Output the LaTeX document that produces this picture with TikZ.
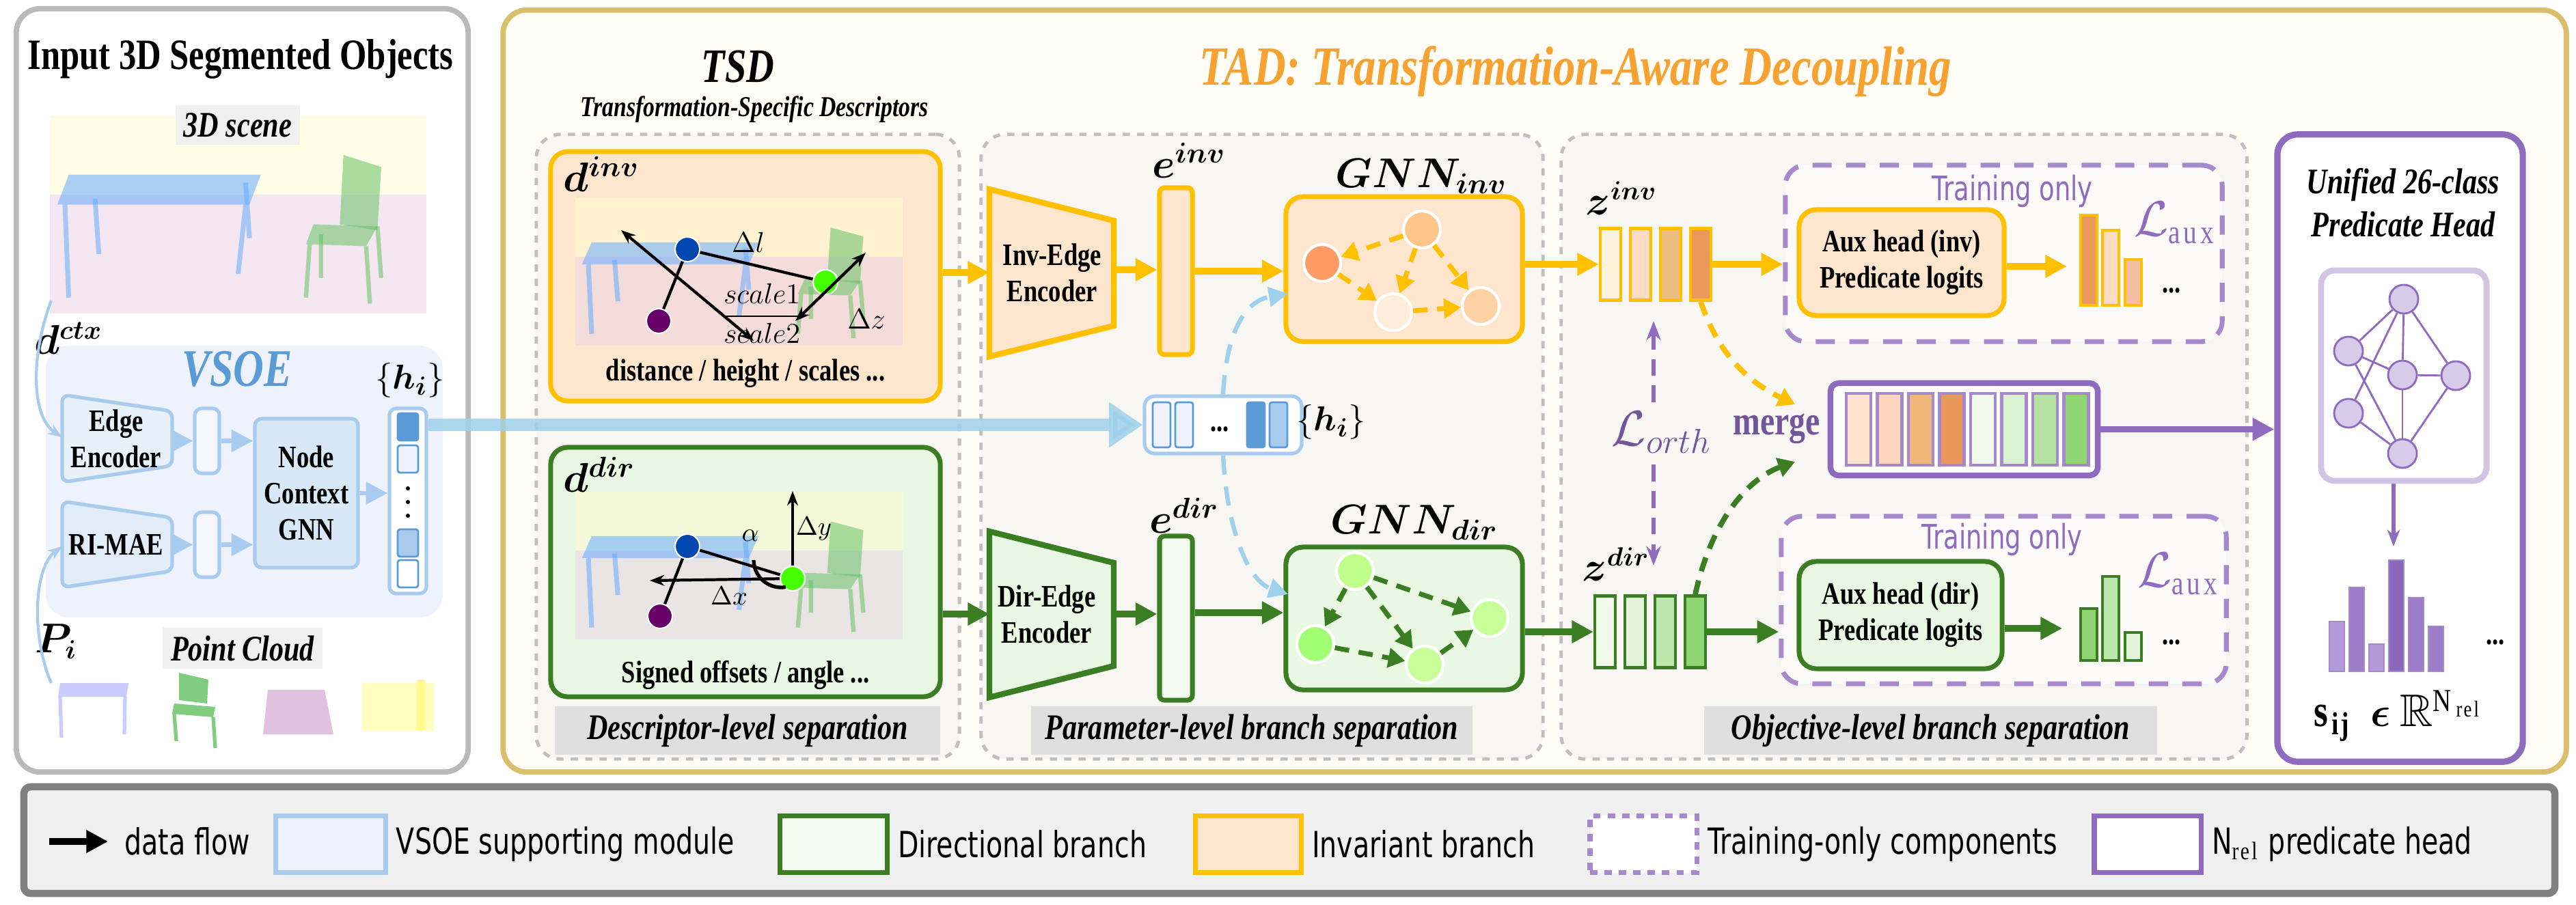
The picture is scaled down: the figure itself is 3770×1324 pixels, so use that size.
\documentclass[tikz,border=0pt]{standalone}
\usepackage{fontspec}
\usepackage{amsmath,amssymb,bm}
\setmainfont{Liberation Serif}[FakeStretch=0.8]
\setsansfont{DejaVu Sans}[FakeStretch=0.75]
\usetikzlibrary{arrows.meta,positioning,calc}
\definecolor{orgline}{HTML}{FFC000}
\definecolor{orgfill}{HTML}{FDE5CE}
\definecolor{grnline}{HTML}{3B7D23}
\definecolor{grnfill}{HTML}{E8F8E3}
\definecolor{vsline}{HTML}{A9CCEE}
\definecolor{vsfill}{HTML}{EEF2FC}
\definecolor{purp}{HTML}{8E6BBF}
\definecolor{tadline}{HTML}{D9BE6C}
\definecolor{tadfill}{HTML}{FFFDF5}
\definecolor{regfill}{HTML}{F7F6F2}
\definecolor{tadtitle}{HTML}{F7A130}
\definecolor{vsblue}{HTML}{5B9BD5}
\definecolor{flowblue}{HTML}{9FD1EC}
\tikzset{
  panel/.style={draw, rounded corners=0.35cm, line width=2.2pt},
  region/.style={draw=gray!50, dashed, line width=1.4pt, fill=regfill, rounded corners=0.35cm},
  sepbox/.style={fill=gray!25, font=\bfseries\itshape\fontsize{15}{16}\selectfont},
  invbox/.style={draw=orgline, fill=orgfill, line width=2pt, rounded corners=0.25cm},
  dirbox/.style={draw=grnline, fill=grnfill, line width=2pt, rounded corners=0.25cm},
  trainbox/.style={draw=purp!80, dashed, dash pattern=on 8pt off 6pt, line width=2pt, fill=white!60!regfill, rounded corners=0.3cm},
  vsbox/.style={draw=vsline, fill=vsfill!60!white, line width=1.5pt, rounded corners=0.1cm},
  lbl/.style={font=\bfseries\fontsize{13}{15}\selectfont, align=center},
  cell/.style={draw, line width=1.2pt, minimum width=0.3cm, minimum height=1.05cm, inner sep=0pt},
  gnode/.style={circle, draw=white, line width=1.2pt, minimum size=0.54cm, inner sep=0pt},
  dot/.style={circle, draw=white, line width=0.6pt, minimum size=0.36cm, inner sep=0pt},
  flow/.style={-{Triangle[length=9pt,width=9pt]}, line width=2.6pt},
  gedge/.style={-{Triangle[length=7pt,width=8pt]}, line width=2pt, dash pattern=on 6pt off 4pt},
  thin/.style={-{Stealth[length=6pt]}, line width=1.2pt},
}
% simple 3D scene sketch, #1,#2 top left, #3 width, #4 height
\newcommand\roomsketch[4]{%
\begin{scope}[shift={(#1,#2)}, xscale=#3, yscale=#4, opacity=0.55]
\fill[yellow!18] (0,0) rectangle (1,0.4);
\fill[pink!45!violet!25] (0,0.4) -- (1,0.4) -- (1,1) -- (0,1) -- cycle;
\fill[blue!55!cyan!60] (0.05,0.3) -- (0.56,0.3) -- (0.53,0.45) -- (0.02,0.45) -- cycle;
\draw[blue!55!cyan!60, line width=2pt] (0.04,0.45) -- (0.05,0.92) (0.52,0.45) -- (0.5,0.8) (0.12,0.42) -- (0.13,0.7) (0.52,0.34) -- (0.53,0.62);
\fill[green!60!black!60] (0.78,0.2) -- (0.88,0.26) -- (0.87,0.58) -- (0.77,0.55) -- cycle;
\fill[green!60!black!60] (0.7,0.55) -- (0.87,0.56) -- (0.84,0.66) -- (0.68,0.65) -- cycle;
\draw[green!60!black!60, line width=1.8pt] (0.69,0.65) -- (0.68,0.92) (0.84,0.66) -- (0.85,0.95) (0.87,0.56) -- (0.88,0.82) (0.72,0.6) -- (0.72,0.82);
\end{scope}}
\begin{document}
\begin{tikzpicture}[x=0.01cm, y=-0.01cm, font=\bfseries\fontsize{13}{15}\selectfont]
\useasboundingbox (0,0) rectangle (3770,1324);
\fill[white] (0,0) rectangle (3770,1324);
% panels
\node[panel, draw=gray!55, fill=white, minimum width=6.61cm, minimum height=11.17cm] (inp) at (354.5,571.5) {};
\node[panel, draw=tadline, fill=tadfill, minimum width=30.18cm, minimum height=11.15cm] (tad) at (2246,572.5) {};
\node[font=\bfseries\fontsize{18}{20}\selectfont] (inptitle) at (352,87) {Input 3D Segmented Objects};
\node[font=\bfseries\itshape\fontsize{23}{25}\selectfont, text=tadtitle] (tadtitle) at (2306,105) {TAD: Transformation-Aware Decoupling};
\node[font=\bfseries\itshape\fontsize{20}{22}\selectfont] (tsd) at (1080,98) {TSD};
\node[font=\bfseries\itshape\fontsize{12}{14}\selectfont] (tsdsub) at (1104,160) {Transformation-Specific Descriptors};

% left panel
\roomsketch{73}{169}{551}{290}
\node[fill=gray!12, font=\bfseries\itshape\fontsize{15}{17}\selectfont] (scene) at (348,183) {3D scene};
\node[vsbox, draw=none, fill=vsfill, rounded corners=0.35cm, minimum width=5.81cm, minimum height=3.98cm] (vsoe) at (357.5,705) {};
\node[font=\bfseries\itshape\fontsize{22}{24}\selectfont, text=vsblue] (vsoetitle) at (347,540) {VSOE};
\draw[vsbox, fill=vsfill!40!vsline!40] (91,578) -- (252,602) -- (252,682) -- (91,706) -- cycle;
\node[lbl] (ee) at (170,642) {Edge\\Encoder};
\draw[vsbox, fill=vsfill!40!vsline!50] (91,734) -- (252,758) -- (252,836) -- (91,860) -- cycle;
\node[lbl] (rimae) at (170,797) {RI-MAE};
\node[vsbox, minimum width=0.36cm, minimum height=0.95cm] (eb) at (303,645.5) {};
\node[vsbox, minimum width=0.36cm, minimum height=0.95cm] (rb) at (303,797.5) {};
\node[vsbox, fill=vsline!45, minimum width=1.51cm, minimum height=2.18cm, lbl] (ncg) at (448.5,722) {Node\\Context\\GNN};
\node[vsbox, fill=white, minimum width=0.54cm, minimum height=2.71cm] (hcol) at (597,733.5) {};
\foreach \yy/\cc in {625/vsblue, 672/vsfill, 795/vsline, 840/white}
  \node[draw=vsblue, fill=\cc, line width=0.8pt, rounded corners=1pt, minimum width=0.3cm, minimum height=0.4cm, inner sep=0pt] at (597,\yy) {};
\foreach \yy in {715,735,755}
  \fill (597,\yy) circle (3);
\node[font=\fontsize{15}{17}\selectfont] (hlab) at (600,557) {$\{\bm{h_i}\}$};
\draw[flow, vsline, line width=1.8pt] (252,645.5) -- (eb.west);
\draw[flow, vsline, line width=1.8pt] (eb.east) -- (ncg.west |- eb);
\draw[flow, vsline, line width=1.8pt] (252,797.5) -- (rb.west);
\draw[flow, vsline, line width=1.8pt] (rb.east) -- (ncg.west |- rb);
\draw[flow, vsline, line width=1.8pt] (ncg.east) -- (hcol.west |- ncg);
\node[font=\fontsize{16}{18}\selectfont] (dctx) at (100,495) {$\bm{d}^{\bm{ctx}}$};
\node[font=\fontsize{16}{18}\selectfont] (pi) at (82,939) {$\bm{P_i}$};
\coordinate (ctxs) at (75,440);
\coordinate (pis) at (75,1000);
\draw[thin, vsline] (ctxs) .. controls (45,520) and (45,610) .. (91,640);
\draw[thin, vsline] (pis) .. controls (45,930) and (50,830) .. (91,800);
\node[fill=gray!12, font=\bfseries\itshape\fontsize{15}{17}\selectfont] (pc) at (355,949) {Point Cloud};
\fill[blue!40, opacity=0.5] (88,1000) -- (188,1000) -- (185,1020) -- (85,1020) -- cycle;
\draw[blue!40, opacity=0.5, line width=1.5pt] (88,1020) -- (90,1080) (183,1020) -- (182,1075);
\fill[green!60!black!50] (262,985) -- (305,995) -- (303,1030) -- (262,1025) -- cycle;
\fill[green!60!black!50] (255,1030) -- (315,1035) -- (312,1050) -- (252,1045) -- cycle;
\draw[green!60!black!50, line width=1.5pt] (255,1045) -- (258,1085) (312,1050) -- (315,1095);
\fill[violet!40, opacity=0.6] (392,1010) -- (475,1010) -- (488,1075) -- (385,1075) -- cycle;
\fill[yellow!25] (530,1000) rectangle (635,1070);
\fill[yellow!45] (610,995) rectangle (622,1070);

% TSD region
\node[region, minimum width=6.19cm, minimum height=9.14cm] (tsdreg) at (1094.5,654) {};
\node[region, minimum width=8.22cm, minimum height=9.14cm] (parreg) at (1847,654) {};
\node[region, minimum width=10.03cm, minimum height=9.14cm] (objreg) at (2786.5,654) {};
\node[sepbox, minimum width=5.64cm, minimum height=0.55cm] (descsep) at (1094,1069.5) {Descriptor-level separation};
\node[sepbox, minimum width=6.46cm, minimum height=0.55cm] (parsep) at (1832,1069.5) {Parameter-level branch separation};
\node[sepbox, minimum width=6.63cm, minimum height=0.55cm] (objsep) at (2825.5,1069.5) {Objective-level branch separation};

% d^inv
\node[invbox, minimum width=5.7cm, minimum height=3.65cm] (dinv) at (1091,404.5) {};
\roomsketch{842}{290}{479}{216}
\node[font=\fontsize{17}{19}\selectfont] (dinvlab) at (880,255) {$\bm{d}^{\bm{inv}}$};
\node[dot, fill=blue!60!cyan!70!black] (pb) at (1006,365) {};
\node[dot, fill=violet!80!black] (pp) at (964,470) {};
\node[dot, fill=green!65!lime] (pg) at (1208,413) {};
\draw[line width=1.2pt] (pb) -- (pp);
\draw[line width=1.2pt] (pb) -- (pg);
\coordinate (tl) at (909,337);
\coordinate (br) at (1103,499);
\coordinate (cz1) at (1164,470);
\coordinate (cz2) at (1267,370);
\draw[{Stealth[length=6pt]}-{Stealth[length=6pt]}, line width=1.2pt] (tl) -- (br);
\draw[{Stealth[length=6pt]}-{Stealth[length=6pt]}, line width=1.2pt] (cz1) -- (cz2);
\node[font=\mdseries\fontsize{12}{14}\selectfont] at (1095,355) {$\Delta l$};
\node[font=\mdseries\fontsize{12}{14}\selectfont] at (1268,467) {$\Delta z$};
\node[font=\mdseries\fontsize{12}{14}\selectfont] at (1115,459) {$\dfrac{scale1}{scale2}$};
\node[lbl] (dinvtxt) at (1091,547) {distance / height / scales ...};

% d^dir
\node[dirbox, minimum width=5.7cm, minimum height=3.65cm] (ddir) at (1091,837.5) {};
\roomsketch{842}{720}{479}{216}
\node[font=\fontsize{17}{19}\selectfont] (ddirlab) at (877,695) {$\bm{d}^{\bm{dir}}$};
\node[dot, fill=blue!60!cyan!70!black] (qb) at (1006,800) {};
\node[dot, fill=violet!80!black] (qp) at (966,902) {};
\node[dot, fill=green!65!lime] (qg) at (1160,847) {};
\draw[line width=1.2pt] (qb) -- (qp);
\draw[line width=1.2pt] (qb) -- (qg);
\coordinate (qy) at (1160,719);
\coordinate (qx) at (951,850);
\draw[thin] (qg) -- (qy);
\draw[thin] (qg) -- (qx);
\draw[line width=1.5pt] (1103,820) arc (180:80:40);
\node[font=\mdseries\fontsize{11}{13}\selectfont] at (1098,784) {$\alpha$};
\node[font=\mdseries\fontsize{11}{13}\selectfont] at (1191,774) {$\Delta y$};
\node[font=\mdseries\fontsize{11}{13}\selectfont] at (1067,872) {$\Delta x$};
\node[lbl] (ddirtxt) at (1091,988) {Signed offsets / angle ...};

% edge encoders
\draw[invbox, rounded corners=0pt, line width=2.4pt] (1448,277) -- (1630,323) -- (1630,477) -- (1448,522) -- cycle;
\node[lbl] (invenc) at (1540,399) {Inv-Edge\\Encoder};
\draw[dirbox, rounded corners=0pt, line width=2.4pt] (1448,778) -- (1630,824) -- (1630,975) -- (1448,1021) -- cycle;
\node[lbl] (direnc) at (1532,899) {Dir-Edge\\Encoder};
\node[invbox, rounded corners=2pt, minimum width=0.48cm, minimum height=2.44cm] (einv) at (1721,397) {};
\node[dirbox, fill=grnfill!50!white, rounded corners=2pt, minimum width=0.48cm, minimum height=2.4cm] (edir) at (1721,905) {};
\node[font=\fontsize{17}{19}\selectfont] at (1740,235) {$\bm{e}^{\bm{inv}}$};
\node[font=\fontsize{17}{19}\selectfont] at (1733,755) {$\bm{e}^{\bm{dir}}$};

% GNNs
\node[invbox, minimum width=3.46cm, minimum height=2.12cm] (ginv) at (2055,394) {};
\node[font=\fontsize{18}{20}\selectfont] at (2080,258) {$\bm{GNN_{inv}}$};
\node[gnode, fill=orange!70!red!60] (i1) at (1935,385) {};
\node[gnode, fill=orange!45] (i2) at (2081,336) {};
\node[gnode, fill=orange!15] (i3) at (2039,457) {};
\node[gnode, fill=orange!35] (i4) at (2167,448) {};
\foreach \a/\b in {i2/i1, i2/i3, i2/i4, i1/i3, i3/i4}
  \draw[gedge, orgline] (\a) -- (\b);
\node[dirbox, minimum width=3.46cm, minimum height=2.09cm] (gdir) at (2055,905.5) {};
\node[font=\fontsize{18}{20}\selectfont] at (2070,765) {$\bm{GNN_{dir}}$};
\node[gnode, fill=green!40!lime!45] (j1) at (1983,836) {};
\node[gnode, fill=green!55!lime!55] (j2) at (1925,943) {};
\node[gnode, fill=green!40!lime!40] (j3) at (2085,973) {};
\node[gnode, fill=green!40!lime!40] (j4) at (2180,905) {};
\foreach \a/\b in {j1/j2, j1/j3, j1/j4, j2/j3, j3/j4}
  \draw[gedge, grnline] (\a) -- (\b);

% h_i vector
\node[vsbox, fill=white, rounded corners=0.15cm, minimum width=2.3cm, minimum height=0.84cm] (hvec) at (1790,622) {};
\foreach \xx/\cc in {1700/vsfill, 1733/vsfill, 1838/vsblue, 1871/vsline}
  \node[draw=vsblue, fill=\cc, line width=0.8pt, rounded corners=1pt, minimum width=0.26cm, minimum height=0.66cm, inner sep=0pt] at (\xx,622) {};
\node at (1785,628) {...};
\node[font=\fontsize{15}{17}\selectfont] (hlab2) at (1948,618) {$\{\bm{h_i}\}$};
\draw[-{Triangle[length=14pt,width=18pt]}, flowblue, line width=5pt, opacity=0.85] (hcol.east |- hvec) -- (hvec.west);
\coordinate (ginvin) at (1885,430);
\coordinate (gdirin) at (1885,870);
\draw[-{Triangle[length=8pt,width=8pt]}, flowblue, line width=1.8pt, dash pattern=on 8pt off 5pt] (hvec.north) .. controls (1795,480) and (1825,440) .. (ginvin);
\draw[-{Triangle[length=8pt,width=8pt]}, flowblue, line width=1.8pt, dash pattern=on 8pt off 5pt] (hvec.south) .. controls (1795,770) and (1825,850) .. (gdirin);

% z vectors
\foreach \i/\cc in {0/FFF3DC, 1/FDDCC4, 2/EDBD80, 3/E99A5A}
  {\definecolor{tmpc}{HTML}{\cc}
   \node[cell, draw=orgline, fill=tmpc] (zi\i) at (2357+\i*44,387) {};}
\foreach \i/\cc in {0/F0FAEC, 1/E0F4D8, 2/BCE6AC, 3/8FD672}
  {\definecolor{tmpc}{HTML}{\cc}
   \node[cell, draw=grnline, fill=tmpc] (zd\i) at (2349+\i*44,925) {};}
\node[font=\fontsize{16}{18}\selectfont] at (2373,290) {$\bm{z}^{\bm{inv}}$};
\node[font=\fontsize{16}{18}\selectfont] at (2365,826) {$\bm{z}^{\bm{dir}}$};

% training-only
\node[trainbox, minimum width=6.39cm, minimum height=2.58cm] (tinv) at (2932.5,371) {};
\node[trainbox, minimum width=6.51cm, minimum height=2.45cm] (tdir) at (2932.5,878.5) {};
\node[font=\sffamily\fontsize{14}{16}\selectfont, text=purp] at (2945,280) {Training only};
\node[font=\sffamily\fontsize{14}{16}\selectfont, text=purp] at (2930,790) {Training only};
\node[invbox, minimum width=3cm, minimum height=1.55cm, lbl] (auxinv) at (2783,384.5) {Aux head (inv)\\Predicate logits};
\node[dirbox, minimum width=2.97cm, minimum height=1.57cm, lbl] (auxdir) at (2781.5,900.5) {Aux head (dir)\\Predicate logits};
\foreach \xx/\tp/\cc in {3057/315/E99A5A, 3089/337/FDDCC4, 3122/380/F3BFA0}
  {\definecolor{tmpc}{HTML}{\cc}
   \draw[orgline, fill=tmpc, line width=1.2pt] (\xx-12,\tp) rectangle (\xx+12,447);}
\foreach \xx/\tp/\cc in {3057/891/8FD672, 3089/844/BCE6AC, 3122/926/E0F4D8}
  {\definecolor{tmpc}{HTML}{\cc}
   \draw[grnline, fill=tmpc, line width=1.2pt] (\xx-12,\tp) rectangle (\xx+12,967);}
\coordinate (binv) at (3025,390);
\coordinate (bdir) at (3018,920);
\node[font=\fontsize{20}{22}\selectfont, text=purp] at (3185,326) {$\mathcal{L}_{\mathrm{aux}}$};
\node[font=\fontsize{20}{22}\selectfont, text=purp] at (3190,840) {$\mathcal{L}_{\mathrm{aux}}$};
\node at (3178,425) {...};
\node at (3178,940) {...};

% merge
\node[draw=purp, fill=white, line width=2.4pt, rounded corners=0.12cm, minimum width=3.91cm, minimum height=1.35cm] (merge) at (2874.5,628.5) {};
\foreach \i/\cc in {0/FFE3CC, 1/FDD4BC, 2/EDB87A, 3/E9975A, 4/F0FAEC, 5/D9F2CF, 6/B5E3A2, 7/8FD672}
  {\definecolor{tmpc}{HTML}{\cc}
   \node[cell, draw=purp!80, fill=tmpc, minimum height=1.05cm, minimum width=0.36cm] at (2720+\i*45.5,628.5) {};}
\node[font=\bfseries\fontsize{17}{19}\selectfont, text=purp!80!black] (mergelab) at (2600,628) {merge};
\coordinate (mi) at (2627,592);
\coordinate (md) at (2627,676);

% predicate head
\node[draw=purp, fill=white, line width=2.6pt, rounded corners=0.3cm, minimum width=3.59cm, minimum height=9.18cm] (pred) at (3512.5,656) {};
\node[font=\bfseries\itshape\fontsize{15}{18}\selectfont, align=center] at (3517,297) {Unified 26-class\\Predicate Head};
\node[draw=purp!40, line width=2.5pt, rounded corners=0.2cm, minimum width=2.42cm, minimum height=3.08cm] (nn) at (3518,550) {};
\foreach \nm/\xx/\yy in {t/3518/438, l1/3437/514, m/3516/549, r/3594/550, l2/3437/605, b/3516/664}
  \node[circle, draw=purp, fill=purp!35, minimum width=0.36cm, minimum height=0.42cm, inner sep=0pt, line width=0.8pt] (n\nm) at (\xx,\yy) {};
\foreach \a/\b in {t/l1, t/l2, t/m, t/r, b/l1, b/l2, b/m, b/r, l1/m, m/r}
  \draw[purp, line width=0.8pt] (n\a) -- (n\b);
\coordinate (hbar) at (3503,800);
\draw[-{Stealth[length=7pt]}, purp, line width=1.5pt] (nn.south -| hbar) -- (hbar);
\foreach \xx/\tp/\cc in {3420/910/B59AD8, 3449/860/9B7DC8, 3478/943/B59AD8, 3507/820/8A68BC, 3536/875/9B7DC8, 3565/917/9B7DC8}
  {\definecolor{tmpc}{HTML}{\cc}
   \draw[purp!80, fill=tmpc, line width=0.8pt] (\xx-11,\tp) rectangle (\xx+11,983);}
\node at (3652,940) {...};
\node[font=\fontsize{19}{21}\selectfont] at (3510,1048) {$\mathbf{s_{ij}}\ \ \bm{\epsilon}\ \mathbb{R}^{\mathrm{N_{rel}}}$};

% data flow
\draw[flow, orgline] (dinv.east |- invenc) -- (1448,399);
\draw[flow, orgline] (1630,395) -- (einv.west |- 0,395);
\draw[flow, orgline] (einv.east) -- (ginv.west |- einv);
\draw[flow, orgline] (ginv.east |- zi0) -- (zi0.west);
\draw[flow, orgline] (zi3.east) -- (tinv.west |- zi3);
\draw[flow, orgline] (auxinv.east |- binv) -- (binv);
\draw[flow, grnline] (ddir.east |- direnc) -- (1448,899);
\draw[flow, grnline] (1630,899) -- (edir.west |- 0,899);
\draw[flow, grnline] (edir.east |- 0,897) -- (gdir.west |- 0,897);
\draw[flow, grnline] (gdir.east |- zd0) -- (zd0.west);
\draw[flow, grnline] (zd3.east) -- (tdir.west |- zd3);
\draw[flow, grnline] (auxdir.east |- bdir) -- (bdir);
\draw[gedge, orgline, line width=2.2pt] (zi3.south) .. controls (2515,520) and (2560,560) .. (mi);
\draw[gedge, grnline, line width=2.2pt] (zd3.north) .. controls (2505,760) and (2560,700) .. (md);
\draw[{Stealth[length=8pt]}-{Stealth[length=8pt]}, purp, line width=1.8pt, dash pattern=on 7pt off 4pt] (2420,470) -- (2420,828);
\node[fill=regfill, inner sep=1pt, font=\fontsize{21}{23}\selectfont, text=purp!80!black] (lorth) at (2432,633) {$\mathcal{L}_{orth}$};
\draw[flow, purp] (merge.east) -- (pred.west |- merge);

% legend
\node[draw=gray, fill=gray!12, line width=3pt, rounded corners=0.1cm, minimum width=37.02cm, minimum height=1.56cm] (legend) at (1887,1230) {};
\begin{scope}[font=\sffamily\fontsize{15}{17}\selectfont]
\coordinate (la) at (72,1232);
\coordinate (lb) at (158,1232);
\draw[flow, black, line width=3pt] (la) -- (lb);
\node[anchor=west] at (170,1232) {data flow};
\node[draw=vsline, fill=vsfill, line width=2pt, minimum width=1.6cm, minimum height=0.83cm] (lg1) at (484,1236) {};
\node[anchor=west] at (lg1.east) {VSOE supporting module};
\node[draw=grnline, fill=grnfill!50!white, line width=2pt, minimum width=1.56cm, minimum height=0.83cm] (lg2) at (1220,1236) {};
\node[anchor=west] at (lg2.east) {Directional branch};
\node[draw=orgline, fill=orgfill, line width=2pt, minimum width=1.54cm, minimum height=0.83cm] (lg3) at (1827,1236) {};
\node[anchor=west] at (lg3.east) {Invariant branch};
\node[draw=purp!80, dashed, fill=white, line width=2pt, minimum width=1.56cm, minimum height=0.83cm] (lg4) at (2405,1236) {};
\node[anchor=west] at (lg4.east) {Training-only components};
\node[draw=purp, fill=white, line width=2pt, minimum width=1.56cm, minimum height=0.83cm] (lg5) at (3143,1236) {};
\node[anchor=west] at (lg5.east) {N$_{\mathrm{rel}}$ predicate head};
\end{scope}
\end{tikzpicture}
\end{document}
